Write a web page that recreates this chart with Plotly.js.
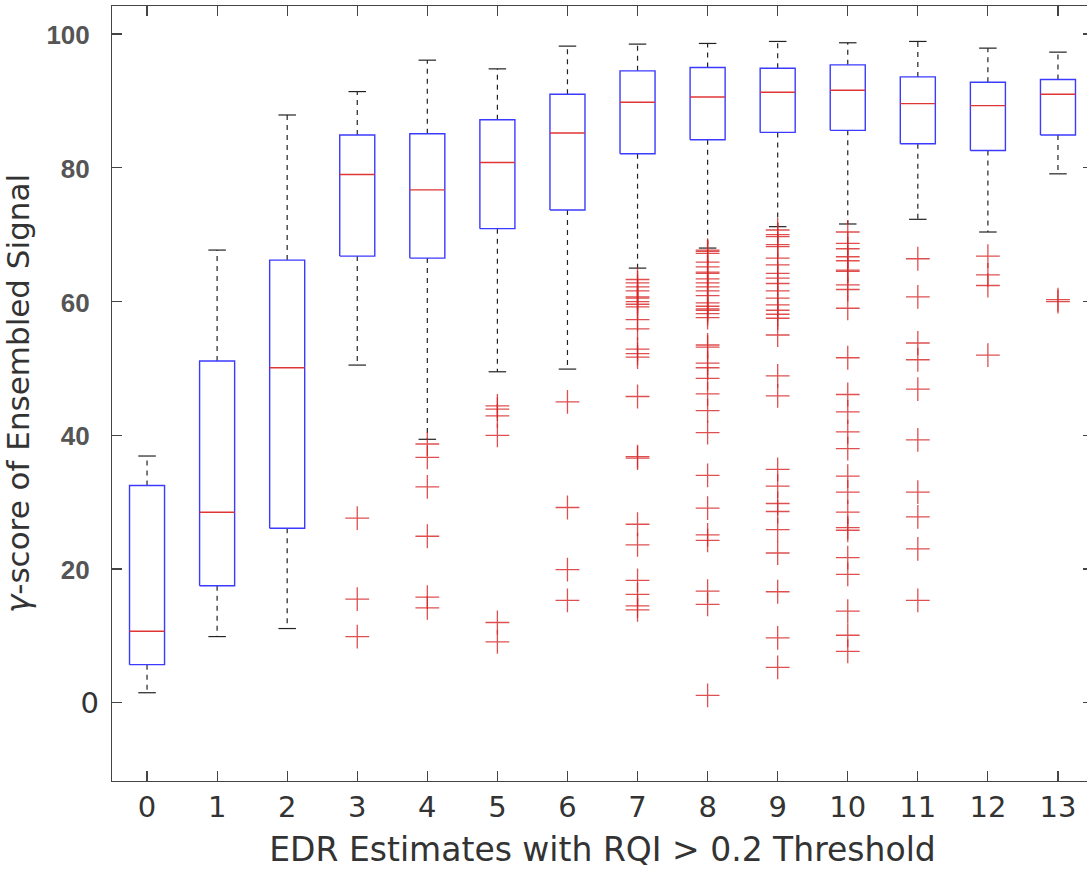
<!DOCTYPE html>
<html>
<head>
<meta charset="utf-8">
<script src="https://cdn.plot.ly/plotly-3.0.1.min.js"></script>
<style>
html, body { margin: 0; padding: 0; overflow: hidden; background: #fff; }
#chart { width: 1100px; height: 871px; }
</style>
</head>
<body>
<div id="chart"></div>
<script>
// ---- Data ----
const categories = [0, 1, 2, 3, 4, 5, 6, 7, 8, 9, 10, 11, 12, 13];
const q1 = [5.7, 17.5, 26.1, 66.8, 66.5, 70.9, 73.7, 82.1, 84.2, 85.3, 85.6, 83.6, 82.6, 84.9];
const medians = [10.7, 28.5, 50.1, 79.0, 76.7, 80.8, 85.2, 89.8, 90.6, 91.3, 91.6, 89.6, 89.3, 91.0];
const q3 = [32.5, 51.1, 66.2, 84.9, 85.1, 87.2, 91.0, 94.5, 95.0, 94.9, 95.4, 93.6, 92.8, 93.2];
const lowerWhisker = [1.5, 9.9, 11.1, 50.5, 39.4, 49.5, 49.9, 65.0, 68.0, 71.2, 71.6, 72.3, 70.4, 79.1];
const upperWhisker = [36.9, 67.7, 87.9, 91.4, 96.1, 94.8, 98.2, 98.5, 98.6, 98.9, 98.7, 98.9, 97.9, 97.3];
const outliers = [
  [],
  [],
  [],
  [27.6, 15.5, 9.9],
  [38.7, 36.7, 32.3, 24.9, 15.8, 14.2],
  [44.4, 43.9, 42.9, 40.0, 12.0, 9.1],
  [45.0, 29.2, 19.9, 15.3],
  [63.3, 62.8, 62.2, 61.6, 60.7, 60.5, 60.0, 59.6, 59.2, 57.3, 55.9, 52.9, 52.2, 51.7, 45.8, 36.8, 36.6, 26.7, 23.6, 18.3, 16.2, 14.5, 13.9],
  [67.7, 67.5, 67.2, 65.9, 65.2, 64.4, 64.2, 63.4, 62.8, 62.2, 61.6, 60.9, 59.8, 59.3, 58.9, 58.7, 58.2, 57.6, 53.5, 53.2, 50.8, 50.1, 48.5, 46.2, 43.7, 40.4, 34.0, 29.1, 25.1, 24.3, 16.7, 14.7, 1.1],
  [70.7, 70.0, 69.7, 68.5, 68.2, 66.5, 65.5, 64.2, 63.5, 62.7, 61.6, 60.5, 59.5, 58.7, 58.1, 57.5, 55.0, 48.9, 45.9, 34.9, 32.4, 29.8, 28.6, 25.9, 22.4, 16.6, 9.7, 5.3],
  [70.4, 68.7, 67.9, 66.7, 66.1, 64.7, 64.5, 62.5, 61.8, 59.0, 51.6, 46.1, 43.5, 40.5, 38.0, 33.9, 31.5, 28.5, 26.2, 25.8, 21.7, 19.2, 13.7, 10.1, 7.7],
  [66.4, 60.7, 53.8, 51.3, 46.9, 39.3, 31.5, 27.8, 23.0, 15.3],
  [66.8, 64.0, 62.4, 52.0],
  [60.3, 60.0]
];
const yTickValues = [0, 20, 40, 60, 80, 100];
const xTitle = 'EDR Estimates with RQI &gt; 0.2 Threshold';
const yTitle = '<i>γ</i>-score of Ensembled Signal';

// ---- Styling (not data) ----
const boxHalf = 0.25;
const capHalf = 0.125;

const bx = [], by = [], mx = [], my = [], wx = [], wy = [], cx = [], cy = [], ox = [], oy = [];
categories.forEach((c, i) => {
  bx.push(c - boxHalf, c + boxHalf, c + boxHalf, c - boxHalf, c - boxHalf, null);
  by.push(q1[i], q1[i], q3[i], q3[i], q1[i], null);
  mx.push(c - boxHalf, c + boxHalf, null);
  my.push(medians[i], medians[i], null);
  wx.push(c, c, null, c, c, null);
  wy.push(q3[i], upperWhisker[i], null, q1[i], lowerWhisker[i], null);
  cx.push(c - capHalf, c + capHalf, null, c - capHalf, c + capHalf, null);
  cy.push(upperWhisker[i], upperWhisker[i], null, lowerWhisker[i], lowerWhisker[i], null);
  outliers[i].forEach(v => { ox.push(c); oy.push(v); });
});

const traces = [
  { x: wx, y: wy, mode: 'lines', line: { color: '#222', width: 1.2, dash: '5px,5px' }, hoverinfo: 'skip' },
  { x: cx, y: cy, mode: 'lines', line: { color: '#222', width: 1.2 }, hoverinfo: 'skip' },
  { x: bx, y: by, mode: 'lines', line: { color: '#3b3bff', width: 1.4 }, hoverinfo: 'skip' },
  { x: mx, y: my, mode: 'lines', line: { color: '#e03535', width: 1.4 }, hoverinfo: 'skip' },
  { x: ox, y: oy, mode: 'markers',
    marker: { symbol: 'cross-thin', size: 17, line: { color: 'rgba(215,35,35,0.8)', width: 1.3 } },
    hoverinfo: 'skip' }
];

const yTickText = yTickValues.map(v => v === 0
  ? String(v)
  : '<span style="font-family:Liberation Sans, Arial, sans-serif;font-weight:bold;font-size:26px;fill:#555555">' + v + '</span>&nbsp;');

const axisCommon = {
  showline: true, linecolor: '#444', linewidth: 1.2,
  ticks: 'inside', ticklen: 10, tickcolor: '#444', tickwidth: 1.2,
  mirror: 'ticks', showgrid: false, zeroline: false
};

const layout = {
  width: 1100, height: 871,
  margin: { l: 112, r: 7, t: 6, b: 90.3 },
  paper_bgcolor: '#fff', plot_bgcolor: '#fff',
  showlegend: false,
  font: { family: 'DejaVu Sans, sans-serif', color: '#333' },
  xaxis: Object.assign({}, axisCommon, {
    range: [-0.5, 13.5],
    tickvals: categories,
    ticktext: categories.map(String),
    tickfont: { family: 'DejaVu Sans, sans-serif', size: 29, color: '#333' },
    title: { text: xTitle, font: { family: 'DejaVu Sans, sans-serif', size: 33, color: '#333' }, standoff: 14 }
  }),
  yaxis: Object.assign({}, axisCommon, {
    range: [-11.7, 104.2],
    tickvals: yTickValues,
    ticktext: yTickText,
    ticklabelstandoff: 6,
    tickfont: { family: 'DejaVu Sans, sans-serif', size: 29, color: '#333' },
    title: { text: yTitle, font: { family: 'DejaVu Sans, sans-serif', size: 31, color: '#333' }, standoff: 12 }
  })
};

Plotly.newPlot('chart', traces, layout, { displayModeBar: false, staticPlot: true });
</script>
</body>
</html>
